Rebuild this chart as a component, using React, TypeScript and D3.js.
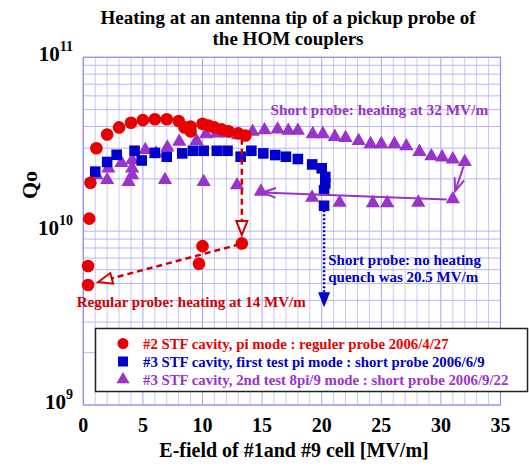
import * as d3 from "d3";

// #2 STF cavity, pi mode, regular probe (E [MV/m], Qo)
const regularE = [0.4, 0.4, 0.5, 0.6, 1.1, 2.0, 3.0, 4.0, 5.0, 6.0, 7.0, 8.0, 8.5, 9.0, 9.0, 10.0, 10.5, 11.0, 11.6, 12.2, 13.0, 13.6, 9.7, 10.0, 13.3];
const regularQ = [4.9e9, 6.3e9, 1.18e10, 1.9e10, 3.0e10, 3.6e10, 3.95e10, 4.2e10, 4.35e10, 4.4e10, 4.4e10, 4.3e10, 3.95e10, 3.75e10, 4.0e10, 4.15e10, 4.05e10, 3.95e10, 3.85e10, 3.75e10, 3.65e10, 3.55e10, 6.5e9, 8.2e9, 8.5e9];

// #3 STF cavity, first test pi mode, short probe
const shortFirstE = [1.0, 2.0, 2.8, 4.3, 4.9, 6.0, 7.0, 8.3, 9.2, 10.1, 11.2, 12.1, 13.2, 14.1, 15.1, 16.1, 17.0, 18.0, 19.2, 20.0, 20.3, 20.3, 20.2, 20.2];
const shortFirstQ = [2.2e10, 2.5e10, 2.75e10, 2.9e10, 2.55e10, 2.82e10, 2.68e10, 2.8e10, 2.9e10, 2.9e10, 2.9e10, 2.9e10, 2.68e10, 2.9e10, 2.8e10, 2.74e10, 2.68e10, 2.6e10, 2.42e10, 2.3e10, 2.05e10, 1.88e10, 1.72e10, 1.4e10];

// #3 STF cavity, 2nd test 8pi/9 mode, short probe
const shortSecondE = [1.1, 2.0, 2.1, 3.2, 3.8, 4.1, 4.1, 4.1, 5.2, 6.1, 6.85, 7.05, 8.05, 9.5, 10.1, 10.3, 11.2, 12.1, 12.9, 13.0, 14.2, 14.9, 15.2, 16.3, 17.2, 18.0, 19.2, 19.25, 20.1, 21.1, 21.5, 22.0, 23.1, 24.1, 24.3, 25.0, 25.5, 26.1, 27.1, 28.1, 28.2, 29.2, 30.1, 31.0, 31.0, 32.0];
const shortSecondQ = [2.1e10, 1.97e10, 2.3e10, 2.47e10, 1.92e10, 2.1e10, 2.3e10, 2.56e10, 2.93e10, 2.8e10, 1.97e10, 3.03e10, 3.27e10, 3.31e10, 1.92e10, 3.62e10, 3.65e10, 3.65e10, 1.84e10, 3.57e10, 3.73e10, 1.69e10, 3.81e10, 3.85e10, 3.78e10, 3.78e10, 1.56e10, 3.62e10, 3.62e10, 3.49e10, 1.46e10, 3.44e10, 3.3e10, 3.17e10, 1.45e10, 3.17e10, 1.45e10, 3.17e10, 3.08e10, 1.46e10, 2.86e10, 2.7e10, 2.66e10, 1.53e10, 2.59e10, 2.5e10];

const legendLabels = [
  "#2 STF cavity, pi mode : reguler probe 2006/4/27",
  "#3 STF cavity, first test pi mode : short probe 2006/6/9",
  "#3 STF cavity, 2nd test 8pi/9 mode : short probe 2006/9/22",
];
const xTicks = [0, 5, 10, 15, 20, 25, 30, 35];
const yExponents = [9, 10, 11];

const RED = "#e80000";
const BLUE = "#0000cc";
const PURPLE = "#9933cc";
const FONT = "'Liberation Serif', 'Times New Roman', serif";

const W = 531;
const H = 466;
const margin = { left: 83.3, right: 30.5, top: 57.3, bottom: 61 };

function arrowHead(x1: number, y1: number, x2: number, y2: number, len: number, half: number) {
  const a = Math.atan2(y2 - y1, x2 - x1);
  const bx = x2 - len * Math.cos(a);
  const by = y2 - len * Math.sin(a);
  const px = -Math.sin(a) * half;
  const py = Math.cos(a) * half;
  return { tip: [x2, y2], l: [bx + px, by + py], r: [bx - px, by - py], base: [bx, by] };
}

export default function App() {
  const x = d3.scaleLinear().domain([0, 35]).range([margin.left, W - margin.right]);
  const y = d3.scaleLog().domain([1e9, 1e11]).range([H - margin.bottom, margin.top]);

  const minorX = d3.range(0, 36);
  const minorY: number[] = [];
  for (let e = 9; e < 11; e++) for (let m = 1; m < 10; m++) minorY.push(m * Math.pow(10, e));
  minorY.push(1e11);

  const circle = d3.symbol(d3.symbolCircle, 125)();
  const square = d3.symbol(d3.symbolSquare, 112)();
  const triangle = d3.symbol(d3.symbolTriangle, 88)();
  const legendSyms = [
    d3.symbol(d3.symbolCircle, 95)(),
    d3.symbol(d3.symbolSquare, 100)(),
    d3.symbol(d3.symbolTriangle, 75)(),
  ];

  // annotation arrows (data coords)
  const redDown = { x1: 13.3, q1: 3.4e10, x2: 13.3, q2: 9.5e9 };
  const redDiag = { x1: 13.1, q1: 8.4e9, x2: 1.25, q2: 5.1e9 };
  const purpleLeft = { x1: 30.5, q1: 1.52e10, x2: 15.05, q2: 1.67e10 };
  const purpleDown = { x1: 31.9, q1: 2.36e10, x2: 31.2, q2: 1.7e10 };
  const blueDown = { x1: 20.2, q1: 1.32e10, x2: 20.2, q2: 3.65e9 };

  const openTri = (a: typeof redDown, color: string) => {
    const X1 = x(a.x1), Y1 = y(a.q1), X2 = x(a.x2), Y2 = y(a.q2);
    const h = arrowHead(X1, Y1, X2, Y2, 14, 5.5);
    return (
      <g>
        <line x1={X1} y1={Y1} x2={h.base[0]} y2={h.base[1]} stroke={color} strokeWidth={2.5} strokeDasharray="6,4" />
        <path d={`M${h.tip}L${h.l}L${h.r}Z`} fill="white" stroke={color} strokeWidth={2} />
      </g>
    );
  };
  const vArrow = (a: typeof redDown, color: string) => {
    const X1 = x(a.x1), Y1 = y(a.q1), X2 = x(a.x2), Y2 = y(a.q2);
    const h = arrowHead(X1, Y1, X2, Y2, 13, 5);
    return (
      <g>
        <line x1={X1} y1={Y1} x2={X2} y2={Y2} stroke={color} strokeWidth={2} />
        <path d={`M${h.l}L${h.tip}L${h.r}`} fill="none" stroke={color} strokeWidth={2} />
      </g>
    );
  };
  const blueArrow = (() => {
    const a = blueDown;
    const X1 = x(a.x1), Y1 = y(a.q1), X2 = x(a.x2), Y2 = y(a.q2);
    const h = arrowHead(X1, Y1, X2, Y2, 15, 6);
    return (
      <g>
        <line x1={X1} y1={Y1} x2={h.base[0]} y2={h.base[1]} stroke={BLUE} strokeWidth={2.5} strokeDasharray="2,2" />
        <path d={`M${h.tip}L${h.l}L${h.r}Z`} fill={BLUE} />
      </g>
    );
  })();

  const legendColors = [RED, BLUE, PURPLE];

  return (
    <svg width={W} height={H} style={{ position: "absolute", left: 0, top: 0 }} fontFamily={FONT} fontWeight="bold">
      <rect width={W} height={H} fill="white" />
      {/* title */}
      <text x={288} y={24} textAnchor="middle" fontSize={19}>Heating at an antenna tip of a pickup probe of</text>
      <text x={288} y={45} textAnchor="middle" fontSize={19}>the HOM couplers</text>

      {/* grid */}
      <g>
        {minorX.map((v) => (
          <line key={"gx" + v} x1={x(v)} x2={x(v)} y1={y.range()[1]} y2={y.range()[0]} stroke={v % 5 === 0 ? "#a4a4f0" : "#c8c8f6"} strokeWidth={1} />
        ))}
        {minorY.map((v, i) => (
          <line key={"gy" + i} x1={x(0)} x2={x(35)} y1={y(v)} y2={y(v)} stroke={"#b8b8f2"} strokeWidth={1} />
        ))}
        <rect x={x(0)} y={y(1e11)} width={x(35) - x(0)} height={y(1e9) - y(1e11)} fill="none" stroke="#9090ec" strokeWidth={1.2} />
      </g>

      {/* axes labels */}
      {xTicks.map((t) => (
        <text key={"xt" + t} x={x(t)} y={432} textAnchor="middle" fontSize={20}>{t}</text>
      ))}
      {yExponents.map((e) => (
        <text key={"yt" + e} x={73} y={y(Math.pow(10, e)) + 4} textAnchor="end" fontSize={21}>
          10<tspan dy={-10} fontSize={14}>{e}</tspan>
        </text>
      ))}
      <text x={294} y={457} textAnchor="middle" fontSize={20}>E-field of #1and #9 cell [MV/m]</text>
      <text transform={`translate(37,${185}) rotate(-90)`} textAnchor="middle" fontSize={22}>Qo</text>

      {/* series */}
      <g fill={PURPLE}>
        {shortSecondE.map((e, i) => (
          <path key={"p" + i} d={triangle} transform={`translate(${x(e)},${y(shortSecondQ[i])})`} />
        ))}
      </g>
      <g fill={BLUE}>
        {shortFirstE.map((e, i) => (
          <path key={"b" + i} d={square} transform={`translate(${x(e)},${y(shortFirstQ[i])})`} />
        ))}
      </g>
      <g fill={RED}>
        {regularE.map((e, i) => (
          <path key={"r" + i} d={circle} transform={`translate(${x(e)},${y(regularQ[i])})`} />
        ))}
      </g>

      {/* annotations */}
      {openTri(redDown, "#d00000")}
      {openTri(redDiag, "#d00000")}
      {vArrow(purpleLeft, PURPLE)}
      {vArrow(purpleDown, PURPLE)}
      {blueArrow}

      <text x={x(15.7)} y={115} fontSize={15.3} fill={PURPLE}>Short probe: heating at 32 MV/m</text>
      <text x={x(-0.55)} y={307} fontSize={15} fill="#d00000">Regular probe: heating at 14 MV/m</text>
      <text x={x(20.55)} y={265} fontSize={15} fill={BLUE}>Short probe: no heating</text>
      <text x={x(20.55)} y={282} fontSize={15} fill={BLUE}>quench was 20.5 MV/m</text>

      {/* legend */}
      <rect x={95.5} y={328.5} width={432} height={63} fill="white" stroke="#222" strokeWidth={1.5} />
      {legendLabels.map((l, i) => (
        <g key={"lg" + i}>
          <path d={legendSyms[i]} transform={`translate(123,${343.5 + i * 18})`} fill={legendColors[i]} />
          <text x={143} y={348.5 + i * 18} fontSize={14.8} fill={legendColors[i]}>{l}</text>
        </g>
      ))}
    </svg>
  );
}
